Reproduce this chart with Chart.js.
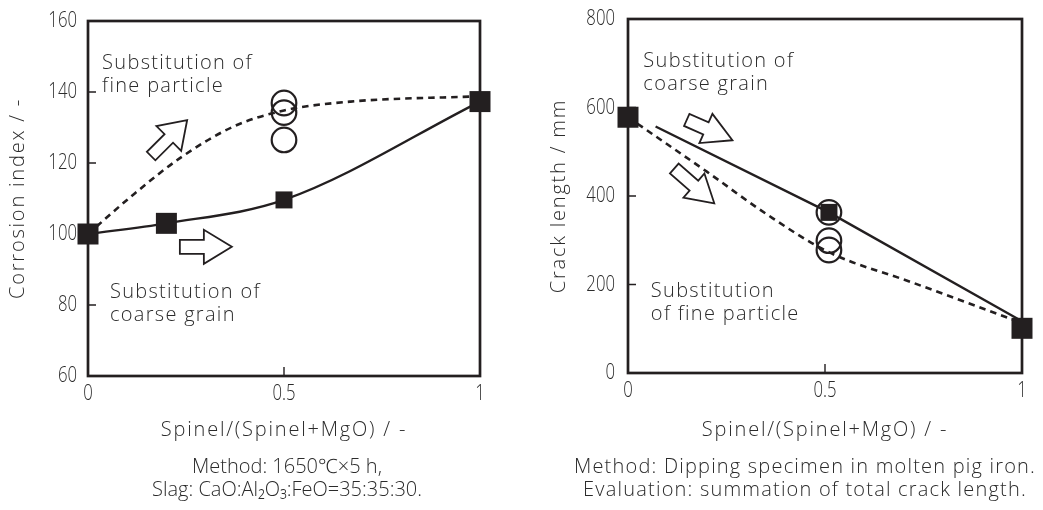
<!DOCTYPE html>
<html>
<head>
<meta charset="utf-8">
<title>Spinel substitution</title>
<script src="https://cdn.jsdelivr.net/npm/chart.js@4.4.1/dist/chart.umd.min.js"></script>
<style>
  html, body { margin: 0; padding: 0; background: #fff; }
  .wrap { display: flex; width: 1043px; height: 510px; }
  canvas { display: block; }
</style>
</head>
<body>
<div class="wrap">
  <canvas id="corrosion-chart" width="521" height="510"></canvas>
  <canvas id="crack-chart" width="522" height="510"></canvas>
</div>
<script>
// ticks
const xTicks = [0, 0.5, 1];
const corrosionTicks = [60, 80, 100, 120, 140, 160];
const crackTicks = [0, 200, 400, 600, 800];

// left: corrosion index
const coarseX = [0, 0.2, 0.5, 1];
const coarseCorrosion = [100, 103, 109.6, 137.3];
const fineX = [0.5, 0.5, 0.5];
const fineCorrosion = [136.9, 134.2, 126.5];
const fineCurveX = [0, 0.12, 0.24, 0.37, 0.5, 0.67, 1];
const fineCurveCorrosion = [100, 111.5, 121.8, 130.2, 134.8, 137.3, 138.8];

// right: crack length
const coarseCrackX = [0, 0.51, 1];
const coarseCrack = [578, 363, 101];
const coarseLineX = [0.07, 0.51, 1];
const coarseLineCrack = [557, 363, 117];
const fineCrackX = [0.51, 0.51, 0.51];
const fineCrack = [363, 299, 278];
const fineCurveCrackX = [0, 0.2, 0.35, 0.51, 0.72, 1];
const fineCurveCrack = [578, 455, 360, 273, 205, 113];

const ink = "#231f20";
const textInk = "#2b2b2b";
const sans = "'Open Sans', 'Noto Sans', sans-serif";

const toPoints = (xs, ys) => xs.map((x, i) => ({ x: x, y: ys[i] }));

// box, inner ticks, tick labels, arrows, labels, notes
const framePlugin = {
  id: "frame",
  beforeDraw(chart) {
    chart.ctx.letterSpacing = "1.8px";
  },
  beforeDatasetsDraw(chart) {
    const { ctx, chartArea: a, scales } = chart;
    ctx.save();
    ctx.strokeStyle = ink;
    ctx.lineWidth = 1.4;
    ctx.beginPath();
    scales.y.ticks.forEach((t) => {
      if (t.value === scales.y.min || t.value === scales.y.max) return;
      const y = scales.y.getPixelForValue(t.value);
      ctx.moveTo(a.left, y);
      ctx.lineTo(a.left + 8, y);
    });
    scales.x.ticks.forEach((t) => {
      if (t.value === scales.x.min || t.value === scales.x.max) return;
      const x = scales.x.getPixelForValue(t.value);
      ctx.moveTo(x, a.bottom);
      ctx.lineTo(x, a.bottom - 9);
    });
    ctx.stroke();
    ctx.lineWidth = 2.7;
    ctx.strokeRect(a.left, a.top, a.right - a.left, a.bottom - a.top);
    ctx.restore();
  },
  afterDraw(chart, args, opts) {
    const { ctx, chartArea: a, scales } = chart;
    ctx.save();
    // tick labels, narrow digits
    ctx.font = "300 22px " + sans;
    ctx.letterSpacing = "0px";
    ctx.fillStyle = textInk;
    ctx.textBaseline = "middle";
    ctx.textAlign = "right";
    scales.y.ticks.forEach((t) => {
      ctx.save();
      ctx.translate(a.left - opts.yPad, scales.y.getPixelForValue(t.value));
      ctx.scale(0.76, 1);
      ctx.fillText(String(t.value), 0, 0);
      ctx.restore();
    });
    ctx.textAlign = "center";
    scales.x.ticks.forEach((t) => {
      ctx.save();
      ctx.translate(scales.x.getPixelForValue(t.value), a.bottom + 18);
      ctx.scale(0.76, 1);
      ctx.fillText(String(t.value), 0, 0);
      ctx.restore();
    });
    // block arrows
    (opts.arrows || []).forEach((ar) => {
      const px = scales.x.getPixelForValue(ar.x);
      const py = scales.y.getPixelForValue(ar.y);
      const L = ar.length || 50;
      const h = ar.head || 25;
      const w2 = ar.headHalf || 16.5;
      const w1 = ar.shaftHalf || 6.5;
      ctx.save();
      ctx.translate(px, py);
      ctx.rotate((ar.angle * Math.PI) / 180);
      ctx.beginPath();
      ctx.moveTo(0, 0);
      ctx.lineTo(-h, w2);
      ctx.lineTo(-h, w1);
      ctx.lineTo(-L, w1);
      ctx.lineTo(-L, -w1);
      ctx.lineTo(-h, -w1);
      ctx.lineTo(-h, -w2);
      ctx.closePath();
      ctx.fillStyle = "#fff";
      ctx.fill();
      ctx.lineWidth = 1.8;
      ctx.lineJoin = "miter";
      ctx.strokeStyle = ink;
      ctx.stroke();
      ctx.restore();
    });
    // text inside the plot
    ctx.font = "300 20px " + sans;
    ctx.fillStyle = textInk;
    ctx.letterSpacing = "1.3px";
    ctx.textAlign = "left";
    ctx.textBaseline = "alphabetic";
    (opts.labels || []).forEach((lb) => {
      const px = scales.x.getPixelForValue(lb.x);
      const py = scales.y.getPixelForValue(lb.y);
      lb.lines.forEach((line, i) => ctx.fillText(line, px, py + i * 23));
    });
    // method notes under the axis title
    ctx.letterSpacing = opts.noteSpacing;
    ctx.textAlign = "center";
    ctx.textBaseline = "middle";
    (opts.notes || []).forEach((n) => {
      ctx.fillText(n.text, n.cx, n.cy);
    });
    ctx.restore();
  },
};

function makeOptions(cfg) {
  return {
    responsive: false,
    animation: false,
    layout: { padding: cfg.padding },
    plugins: {
      legend: { display: false },
      tooltip: { enabled: false },
      frame: cfg.frame,
    },
    scales: {
      x: {
        type: "linear",
        min: 0,
        max: 1,
        afterFit: (s) => { s.height = cfg.xHeight; },
        afterBuildTicks: (s) => { s.ticks = xTicks.map((v) => ({ value: v })); },
        grid: { display: false, drawTicks: false },
        border: { display: false },
        ticks: { display: false },
        title: {
          display: true,
          text: "Spinel/(Spinel+MgO) / -",
          color: textInk,
          font: { family: sans, size: 20, weight: 300 },
          padding: { top: 0, bottom: 68 },
        },
      },
      y: {
        type: "linear",
        min: cfg.yTicks[0],
        max: cfg.yTicks[cfg.yTicks.length - 1],
        afterFit: (s) => { s.width = cfg.yWidth; },
        afterBuildTicks: (s) => { s.ticks = cfg.yTicks.map((v) => ({ value: v })); },
        grid: { display: false, drawTicks: false },
        border: { display: false },
        ticks: { display: false },
        title: {
          display: true,
          text: cfg.yTitle,
          color: textInk,
          font: { family: sans, size: 20, weight: 300 },
          padding: { top: cfg.yTitlePad, bottom: 0 },
        },
      },
    },
  };
}

const squareStyle = (sides) => ({
  showLine: false,
  pointStyle: "rect",
  pointRadius: sides.map((s) => s / Math.SQRT2),
  pointBackgroundColor: ink,
  pointBorderWidth: 0,
  clip: false,
});
const circleStyle = {
  showLine: false,
  pointStyle: "circle",
  pointRadius: 12.3,
  pointBackgroundColor: "rgba(255,255,255,0)",
  pointBorderColor: ink,
  pointBorderWidth: 2.2,
  clip: false,
};
const solidLine = {
  pointRadius: 0,
  borderColor: ink,
  borderWidth: 2.4,
  cubicInterpolationMode: "monotone",
  clip: false,
};
const dashedLine = {
  pointRadius: 0,
  borderColor: ink,
  borderWidth: 2.6,
  borderDash: [6.5, 5],
  cubicInterpolationMode: "monotone",
  clip: false,
};

new Chart(document.getElementById("corrosion-chart"), {
  type: "line",
  data: {
    datasets: [
      { label: "coarse grain", data: toPoints(coarseX, coarseCorrosion), ...squareStyle([21, 21, 17, 21]) },
      { label: "fine particle", data: toPoints(fineX, fineCorrosion), ...circleStyle },
      { label: "coarse curve", data: toPoints(coarseX, coarseCorrosion), ...solidLine },
      { label: "fine curve", data: toPoints(fineCurveX, fineCurveCorrosion), ...dashedLine },
    ],
  },
  options: makeOptions({
    padding: { top: 21, right: 41, left: 0, bottom: 0 },
    xHeight: 134,
    yWidth: 88,
    yTitlePad: 6,
    yTicks: corrosionTicks,
    yTitle: "Corrosion index / -",
    frame: {
      yPad: 11,
      noteSpacing: "0px",
      arrows: [
        { x: 0.253, y: 132.1, angle: -45, length: 51, head: 26, headHalf: 17.5, shaftHalf: 6 },
        { x: 0.367, y: 96.4, angle: 0, length: 52, head: 28, headHalf: 17, shaftHalf: 7 },
      ],
      labels: [
        { x: 0.036, y: 146.5, lines: ["Substitution of", "fine particle"] },
        { x: 0.056, y: 81.9, lines: ["Substitution of", "coarse grain"] },
      ],
      notes: [
        { text: "Method: 1650℃×5 h,", cx: 287, cy: 467 },
        { text: "Slag: CaO:Al₂O₃:FeO=35:35:30.", cx: 287, cy: 490 },
      ],
    },
  }),
  plugins: [framePlugin],
});

new Chart(document.getElementById("crack-chart"), {
  type: "line",
  data: {
    datasets: [
      { label: "coarse grain", data: toPoints(coarseCrackX, coarseCrack), ...squareStyle([21, 17, 21]) },
      { label: "fine particle", data: toPoints(fineCrackX, fineCrack), ...circleStyle },
      { label: "coarse line", data: toPoints(coarseLineX, coarseLineCrack), ...solidLine, cubicInterpolationMode: "default", tension: 0 },
      { label: "fine curve", data: toPoints(fineCurveCrackX, fineCurveCrack), ...dashedLine },
    ],
  },
  options: makeOptions({
    padding: { top: 19, right: 21, left: 0, bottom: 0 },
    xHeight: 137,
    yWidth: 107,
    yTitlePad: 26,
    yTicks: crackTicks,
    yTitle: "Crack length / mm",
    frame: {
      yPad: 13,
      noteSpacing: "1.2px",
      arrows: [
        { x: 0.265, y: 526, angle: 24, length: 50, head: 29, headHalf: 16, shaftHalf: 6.6 },
        { x: 0.219, y: 383.5, angle: 41, length: 53, head: 27, headHalf: 16, shaftHalf: 6.6 },
      ],
      labels: [
        { x: 0.039, y: 692, lines: ["Substitution of", "coarse grain"] },
        { x: 0.058, y: 172.4, lines: ["Substitution", "of fine particle"] },
      ],
      notes: [
        { text: "Method: Dipping specimen in molten pig iron.", cx: 284, cy: 467 },
        { text: "Evaluation: summation of total crack length.", cx: 284, cy: 490 },
      ],
    },
  }),
  plugins: [framePlugin],
});
</script>
</body>
</html>
